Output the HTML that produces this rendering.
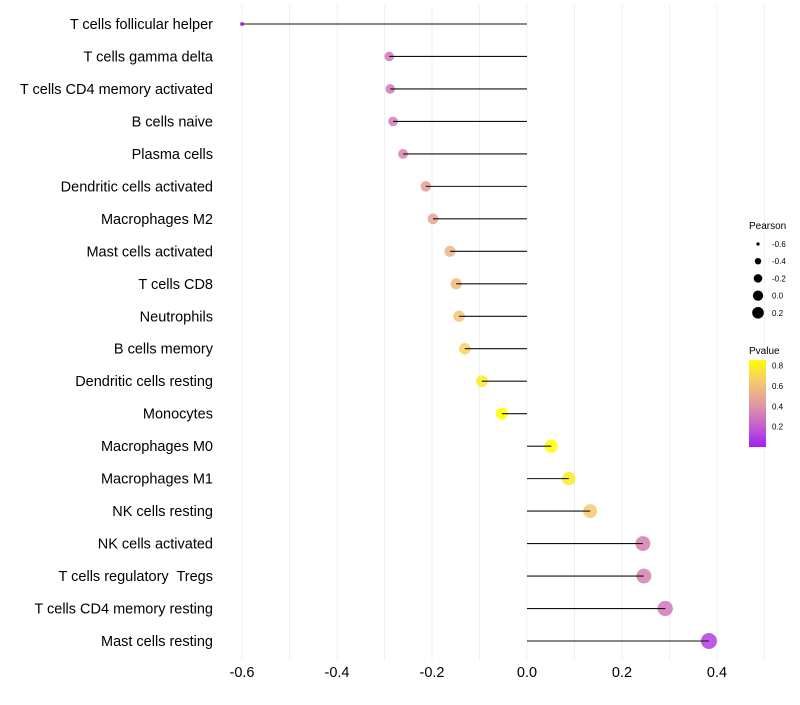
<!DOCTYPE html>
<html><head><meta charset="utf-8"><style>
body{margin:0;background:#fff;font-family:"Liberation Sans",sans-serif}
svg text{font-family:"Liberation Sans",sans-serif;white-space:pre}
</style></head><body>
<svg id="chart" width="800" height="700"></svg>
<script>
const categories=["T cells follicular helper","T cells gamma delta","T cells CD4 memory activated","B cells naive","Plasma cells","Dendritic cells activated","Macrophages M2","Mast cells activated","T cells CD8","Neutrophils","B cells memory","Dendritic cells resting","Monocytes","Macrophages M0","Macrophages M1","NK cells resting","NK cells activated","T cells regulatory  Tregs","T cells CD4 memory resting","Mast cells resting"];
const pearson=[-0.60,-0.29,-0.288,-0.282,-0.261,-0.213,-0.198,-0.162,-0.149,-0.143,-0.131,-0.095,-0.053,0.051,0.088,0.133,0.244,0.246,0.291,0.383];
const pvalues=[0.02,0.30,0.30,0.32,0.35,0.45,0.48,0.55,0.58,0.62,0.68,0.78,0.88,0.90,0.78,0.65,0.33,0.33,0.30,0.10];
const xTicks=[-0.6,-0.4,-0.2,0.0,0.2,0.4];
const xTickLabels=["-0.6","-0.4","-0.2","0.0","0.2","0.4"];
const sizeLegend=[-0.6,-0.4,-0.2,0.0,0.2];
const sizeLegendLabels=["-0.6","-0.4","-0.2","0.0","0.2"];
const colorLegend=[0.8,0.6,0.4,0.2];
const colorLegendLabels=["0.8","0.6","0.4","0.2"];

const NS="http://www.w3.org/2000/svg";
const svg=document.getElementById('chart');
const x=v=>527+v*475;
const y=i=>24+i*(617/19);
const r=v=>Math.sqrt(Math.max(1,40.7+61*v));
const stops=[[0,[160,32,240]],[0.25,[200,96,208]],[0.5,[226,154,156]],[0.75,[245,200,112]],[1,[255,255,0]]];
function col(p){let t=Math.min(1,Math.max(0,p/0.86));for(let k=1;k<stops.length;k++){if(t<=stops[k][0]){const a=stops[k-1],b=stops[k];const f=(t-a[0])/(b[0]-a[0]);const c=a[1].map((v,j)=>Math.round(v+(b[1][j]-v)*f));return `rgb(${c})`;}}return 'rgb(255,255,0)';}
function mk(tag,attrs,parent){const e=document.createElementNS(NS,tag);for(const k in attrs)e.setAttribute(k,attrs[k]);(parent||svg).appendChild(e);return e;}

for(let v=-0.6;v<=0.51;v+=0.1){const l=mk('line',{x1:x(v),x2:x(v),y1:5,y2:660,stroke:'#f0f0f0','stroke-width':1});

}
xTicks.forEach((v,i)=>{const t=mk('text',{x:x(v),y:677,'text-anchor':'middle','font-size':14.5,fill:'#000'});t.textContent=xTickLabels[i];

});
categories.forEach((c,i)=>{
const t=mk('text',{x:213,y:y(i)+5,'text-anchor':'end','font-size':14.5,fill:'#000'});t.textContent=c;


const p=mk('circle',{cx:x(pearson[i]),cy:y(i),r:r(pearson[i]),fill:col(pvalues[i]),'fill-opacity':0.85});


const s=mk('line',{x1:x(0),x2:x(pearson[i]),y1:y(i),y2:y(i),stroke:'#111','stroke-width':1.1});


});
const st=mk('text',{x:749,y:229,'font-size':10,fill:'#000'});st.textContent='Pearson';


sizeLegend.forEach((v,i)=>{const cy=244+i*17.2;
const c=mk('circle',{cx:758,cy:cy,r:r(v)*0.8,fill:'#000'});


const t=mk('text',{x:772,y:cy+3,'font-size':8,fill:'#000'});t.textContent=sizeLegendLabels[i];

});
const ct=mk('text',{x:749,y:354,'font-size':10,fill:'#000'});ct.textContent='Pvalue';


const defs=mk('defs',{});const g=mk('linearGradient',{id:'pg',x1:0,y1:1,x2:0,y2:0},defs);
stops.forEach(s=>mk('stop',{offset:s[0],'stop-color':`rgb(${s[1]})`},g));
const bar=mk('rect',{x:749,y:360,width:17,height:87,fill:'url(#pg)'});


colorLegend.forEach((v,i)=>{const cy=447-v*101.7;
const t=mk('text',{x:772,y:cy+3,'font-size':8,fill:'#000'});t.textContent=colorLegendLabels[i];

});
</script>
</body></html>
